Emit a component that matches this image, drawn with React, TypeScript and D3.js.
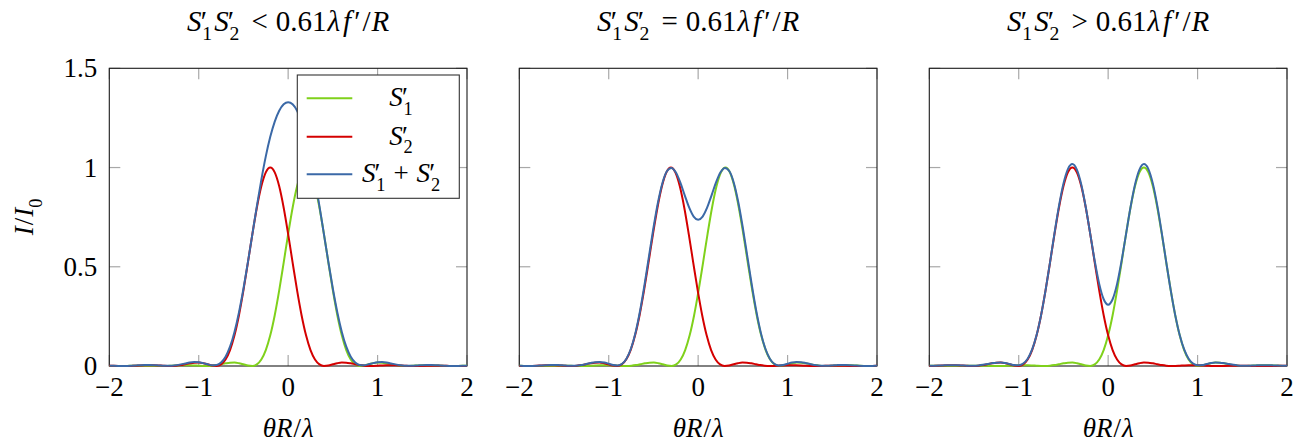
import React from "react";
import * as d3 from "d3";

// ---------------- data ----------------
// Single-source diffraction profile I/I0 read at |θR/λ| = 0, 0.05, 0.10, ... 2.40
const PROFILE_STEP = 0.05;
const AIRY_PROFILE = [
  1, 0.9756, 0.9053, 0.7976, 0.6647, 0.521, 0.3808, 0.256, 0.1546, 0.0804,
  0.0329, 0.0082, 0.0002, 0.0023, 0.0084, 0.0142, 0.0173, 0.0168, 0.0136, 0.009,
  0.0046, 0.0015, 0.0001, 0.0003, 0.0015, 0.0029, 0.0039, 0.0041, 0.0036, 0.0026,
  0.0014, 0.0005, 0.0, 0.0001, 0.0005, 0.001, 0.0014, 0.0016, 0.0015, 0.0011,
  0.0006, 0.0002, 0.0, 0.0, 0.0002, 0.0005, 0.0007, 0.0008, 0.0007,
];
// half separation of the two images S'1 (right) and S'2 (left) in each panel
const SOURCE_OFFSETS = [0.2, 0.305, 0.4];

// S'1 + S'2 read at θR/λ = 0, 0.05, ... 2.0 (curves are symmetric about 0)
const SUM_STEP = 0.05;
const SUM_HALF_1 = [
  1.3294, 1.3186, 1.2861, 1.2316, 1.1546, 1.056, 0.9382, 0.8058, 0.6649, 0.5233,
  0.3892, 0.2702, 0.1719, 0.0972, 0.0465, 0.0172, 0.0048, 0.0038, 0.0085, 0.0145,
  0.0188, 0.0197, 0.0175, 0.0131, 0.0082, 0.0041, 0.0015, 0.0008, 0.0015, 0.003,
  0.0044, 0.0051, 0.005, 0.0042, 0.0029, 0.0016, 0.0006, 0.0003, 0.0005, 0.001,
  0.0016,
];
const SUM_HALF_2 = [
  0.7366, 0.7528, 0.7975, 0.86, 0.925, 0.976, 0.998, 0.981, 0.9213, 0.8229,
  0.6952, 0.5519, 0.408, 0.277, 0.169, 0.0892, 0.0378, 0.0111, 0.0026, 0.0051,
  0.0117, 0.0177, 0.0205, 0.0193, 0.0152, 0.0099, 0.0051, 0.002, 0.0008, 0.0013,
  0.0028, 0.0044, 0.0053, 0.0051, 0.0042, 0.0029, 0.0015, 0.0006, 0.0003, 0.0006,
  0.0012,
];
const SUM_HALF_3 = [
  0.3092, 0.3364, 0.4137, 0.5292, 0.6649, 0.7999, 0.9137, 0.9898, 1.0173, 0.9924,
  0.9189, 0.8066, 0.6693, 0.5225, 0.3809, 0.2563, 0.1561, 0.0833, 0.0368, 0.0123,
  0.0038, 0.0049, 0.0098, 0.0147, 0.0173, 0.0169, 0.0141, 0.01, 0.006, 0.0031,
  0.0016, 0.0014, 0.0021, 0.0031, 0.0039, 0.0041, 0.0038, 0.0031, 0.0021, 0.0013,
  0.0007,
];
const SUM_HALVES = [SUM_HALF_1, SUM_HALF_2, SUM_HALF_3];

const RELATIONS = ["<", "=", ">"];
const X_TICKS = [-2, -1, 0, 1, 2];
const X_TICK_LABELS = ["\u22122", "\u22121", "0", "1", "2"];
const Y_TICKS = [0, 0.5, 1, 1.5];
const Y_TICK_LABELS = ["0", "0.5", "1", "1.5"];
const X_DOMAIN = [-2, 2];
const Y_DOMAIN = [0, 1.5];

// ---------------- layout / style ----------------
const W = 1305;
const H = 447;
const PANEL_LEFT = [109.3, 519.3, 929.3];
const PANEL_W = 357.7;
const TOP = 68.3;
const BOTTOM = 366;
const FONT = "'Liberation Serif', 'Times New Roman', 'DejaVu Serif', serif";
const FS = 27;
const TITLE_FS = 29;
const COLORS = { s1: "#7fd11b", s2: "#d40000", sum: "#3b69a7" };

type Seg = { t: string; it?: boolean; sub?: boolean; dx?: number };

function MathText(props: {
  x: number;
  y: number;
  segs: Seg[];
  fs: number;
  anchor?: string;
  transform?: string;
}) {
  const { x, y, segs, fs, anchor, transform } = props;
  let cur = 0;
  const shift = fs * 0.32;
  return (
    <text
      x={x}
      y={y}
      fontSize={fs}
      fontFamily={FONT}
      textAnchor={anchor || "start"}
      transform={transform}
      fill="#000"
    >
      {segs.map((s, i) => {
        const target = s.sub ? shift : 0;
        const dy = target - cur;
        cur = target;
        return (
          <tspan
            key={i}
            dy={dy !== 0 ? dy : undefined}
            dx={s.dx}
            fontStyle={s.it ? "italic" : "normal"}
            fontSize={s.sub ? fs * 0.68 : undefined}
          >
            {s.t}
          </tspan>
        );
      })}
    </text>
  );
}

function sPrime(n: string, fs: number, lead = 0): Seg[] {
  return [
    { t: "S", it: true, dx: lead || undefined },
    { t: "\u2032", dx: -fs * 0.03 },
    { t: n, sub: true, dx: -fs * 0.16 },
  ];
}

function titleSegs(rel: string, fs: number): Seg[] {
  return [
    ...sPrime("1", fs),
    ...sPrime("2", fs, 2),
    { t: rel, dx: 12 },
    { t: "0.61", dx: 8 },
    { t: "\u03bb", it: true, dx: 1 },
    { t: "f", it: true, dx: 3 },
    { t: "\u2032", dx: 3 },
    { t: "/", dx: 2 },
    { t: "R", it: true, dx: 1 },
  ];
}

function Panel({ idx }: { idx: number }) {
  const x0 = PANEL_LEFT[idx];
  const x = d3.scaleLinear().domain(X_DOMAIN).range([x0, x0 + PANEL_W]);
  const y = d3.scaleLinear().domain(Y_DOMAIN).range([BOTTOM, TOP]);
  const d = SOURCE_OFFSETS[idx];

  const component = (center: number) => {
    const pts: [number, number][] = [];
    for (let j = AIRY_PROFILE.length - 1; j >= 1; j--)
      pts.push([center - j * PROFILE_STEP, AIRY_PROFILE[j]]);
    for (let j = 0; j < AIRY_PROFILE.length; j++)
      pts.push([center + j * PROFILE_STEP, AIRY_PROFILE[j]]);
    return pts;
  };
  const half = SUM_HALVES[idx];
  const sumPts: [number, number][] = [];
  for (let k = half.length - 1; k >= 1; k--) sumPts.push([-k * SUM_STEP, half[k]]);
  for (let k = 0; k < half.length; k++) sumPts.push([k * SUM_STEP, half[k]]);

  const line = d3
    .line<[number, number]>()
    .x((p) => x(p[0]))
    .y((p) => y(p[1]))
    .curve(d3.curveMonotoneX);

  const TL = 11;
  const tickColor = "#a8a8a8";
  const clipId = `clip${idx}`;
  const cx = x0 + PANEL_W / 2;

  return (
    <g>
      <defs>
        <clipPath id={clipId}>
          <rect x={x0} y={TOP - 3} width={PANEL_W} height={BOTTOM - TOP + 6} />
        </clipPath>
      </defs>
      {X_TICKS.map((t) => (
        <g key={"xt" + t} stroke={tickColor} strokeWidth={1.2}>
          <line x1={x(t)} x2={x(t)} y1={BOTTOM} y2={BOTTOM - TL} />
          <line x1={x(t)} x2={x(t)} y1={TOP} y2={TOP + TL} />
        </g>
      ))}
      {Y_TICKS.map((t) => (
        <g key={"yt" + t} stroke={tickColor} strokeWidth={1.2}>
          <line x1={x0} x2={x0 + TL} y1={y(t)} y2={y(t)} />
          <line x1={x0 + PANEL_W} x2={x0 + PANEL_W - TL} y1={y(t)} y2={y(t)} />
        </g>
      ))}
      <rect
        x={x0}
        y={TOP}
        width={PANEL_W}
        height={BOTTOM - TOP}
        fill="none"
        stroke="#1a1a1a"
        strokeWidth={1.1}
      />
      <g clipPath={`url(#${clipId})`} fill="none" strokeWidth={2}>
        <path d={line(component(d)) || ""} stroke={COLORS.s1} />
        <path d={line(component(-d)) || ""} stroke={COLORS.s2} />
        <path d={line(sumPts) || ""} stroke={COLORS.sum} />
      </g>
      {X_TICKS.map((t, i) => (
        <text
          key={"xl" + t}
          x={x(t)}
          y={396}
          fontSize={FS}
          fontFamily={FONT}
          textAnchor="middle"
        >
          {X_TICK_LABELS[i]}
        </text>
      ))}
      {idx === 0 &&
        Y_TICKS.map((t, i) => (
          <text
            key={"yl" + t}
            x={x0 - 12}
            y={y(t) + 9}
            fontSize={FS}
            fontFamily={FONT}
            textAnchor="end"
          >
            {Y_TICK_LABELS[i]}
          </text>
        ))}
      <MathText
        x={cx}
        y={31}
        fs={TITLE_FS}
        anchor="middle"
        segs={titleSegs(RELATIONS[idx], TITLE_FS)}
      />
      <MathText
        x={cx}
        y={437}
        fs={FS}
        anchor="middle"
        segs={[
          { t: "\u03b8", it: true },
          { t: "R", it: true },
          { t: "/", dx: 1 },
          { t: "\u03bb", it: true, dx: 1 },
        ]}
      />
      {idx === 0 && (
        <g>
          <rect x={297.3} y={75} width={162} height={123.3} fill="#fff" stroke="#333" strokeWidth={1.1} />
          {[
            { c: COLORS.s1, y: 98.3, segs: sPrime("1", FS) },
            { c: COLORS.s2, y: 136.7, segs: sPrime("2", FS) },
            {
              c: COLORS.sum,
              y: 174.3,
              segs: [...sPrime("1", FS), { t: "+", dx: 8 }, ...sPrime("2", FS, 8)],
            },
          ].map((e, i) => (
            <g key={"lg" + i}>
              <line x1={306.7} x2={352.3} y1={e.y} y2={e.y} stroke={e.c} strokeWidth={2} />
              <MathText x={401} y={e.y + 8} fs={FS} anchor="middle" segs={e.segs} />
            </g>
          ))}
        </g>
      )}
    </g>
  );
}

export default function App() {
  return (
    <svg
      width={W}
      height={H}
      viewBox={`0 0 ${W} ${H}`}
      style={{ position: "absolute", left: 0, top: 0, background: "#fff" }}
    >
      <rect x={0} y={0} width={W} height={H} fill="#fff" />
      {[0, 1, 2].map((i) => (
        <Panel key={i} idx={i} />
      ))}
      <MathText
        x={0}
        y={0}
        fs={FS}
        anchor="middle"
        transform="translate(33,217) rotate(-90)"
        segs={[
          { t: "I", it: true },
          { t: "/", dx: 1 },
          { t: "I", it: true, dx: 1 },
          { t: "0", sub: true },
        ]}
      />
    </svg>
  );
}
